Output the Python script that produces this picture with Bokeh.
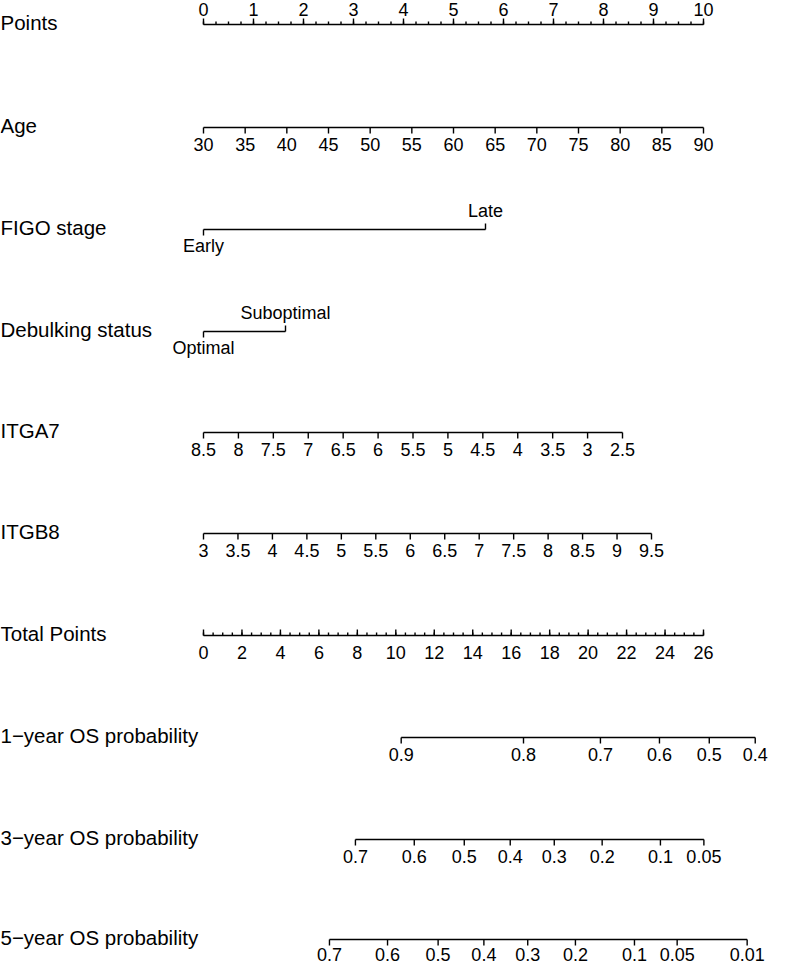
import numpy as np
from bokeh.plotting import figure
from bokeh.models import Range1d
from bokeh.embed import file_html
from bokeh.resources import INLINE
from bokeh.core.properties import value

# ---------------- data ----------------
row_names = ["Points", "Age", "FIGO stage", "Debulking status", "ITGA7", "ITGB8",
             "Total Points", "1\u2212year OS probability", "3\u2212year OS probability",
             "5\u2212year OS probability"]

points_ticks = [0, 1, 2, 3, 4, 5, 6, 7, 8, 9, 10]

age_ticks = [30, 35, 40, 45, 50, 55, 60, 65, 70, 75, 80, 85, 90]
age_end_points = [0.0, 10.0]          # points at age 30 and 90

figo_levels = ["Early", "Late"]
figo_points = [0.0, 5.64]

debulk_levels = ["Optimal", "Suboptimal"]
debulk_points = [0.0, 1.64]

itga7_ticks = [8.5, 8, 7.5, 7, 6.5, 6, 5.5, 5, 4.5, 4, 3.5, 3, 2.5]
itga7_end_points = [0.0, 8.38]        # points at 8.5 and 2.5

itgb8_ticks = [3, 3.5, 4, 4.5, 5, 5.5, 6, 6.5, 7, 7.5, 8, 8.5, 9, 9.5]
itgb8_end_points = [0.0, 8.96]        # points at 3 and 9.5

total_ticks = [0, 2, 4, 6, 8, 10, 12, 14, 16, 18, 20, 22, 24, 26]
total_max = 26

os1_probs = ["0.9", "0.8", "0.7", "0.6", "0.5", "0.4"]
os1_total = [10.28, 16.64, 20.64, 23.71, 26.30, 28.69]

os3_probs = ["0.7", "0.6", "0.5", "0.4", "0.3", "0.2", "0.1", "0.05"]
os3_total = [7.90, 10.96, 13.56, 15.95, 18.24, 20.73, 23.76, 26.02]

os5_probs = ["0.7", "0.6", "0.5", "0.4", "0.3", "0.2", "0.1", "0.05", "0.01"]
os5_total = [6.55, 9.57, 12.20, 14.58, 16.86, 19.34, 22.41, 24.63, 28.27]

# ---------------- layout ----------------
W, H = 797, 965
PX_PER_PT = 50.0
X0_PX = 203.0
x_start = -X0_PX / PX_PER_PT
x_end = (W - X0_PX) / PX_PER_PT

row_y = [24, 127, 229, 331, 432, 533, 635, 737, 839, 939]
TICK = 6.0
MINOR = 3.0
ABOVE_PTS = 15.5   # centre gap for Points labels
ABOVE = 18.5       # centre gap for category labels above line
BELOW = 16.5       # centre gap for labels below line
BELOW_LAST = 15.0  # bottom row sits close to the page edge
FONT = value("Liberation Sans")
TICK_FS = "18px"
LABEL_FS = "20.5px"

p = figure(width=W, height=H, x_range=Range1d(x_start, x_end), y_range=Range1d(H, 0),
           x_axis_type=None, y_axis_type=None, output_backend="svg",
           toolbar_location=None, min_border=0)
p.grid.visible = False
p.outline_line_color = None

sx0, sy0, sx1, sy1 = [], [], [], []
tx, ty, tt = [], [], []          # labels above line
bx, by, bt = [], [], []          # labels below line


def fmt(v):
    return f"{v:g}"


def hline(xa, xb, y):
    sx0.append(xa); sx1.append(xb); sy0.append(y); sy1.append(y)


def tick(x, y, length):
    sx0.append(x); sx1.append(x); sy0.append(y); sy1.append(y + length)


# Points
y = row_y[0]
hline(min(points_ticks), max(points_ticks), y)
for v in np.arange(0, 10.0001, 0.25):
    tick(v, y, -MINOR)
for v in points_ticks:
    tick(v, y, -TICK)
    tx.append(v); ty.append(y - ABOVE_PTS); tt.append(str(v))

# Age
y = row_y[1]
age_pos = np.interp(age_ticks, [age_ticks[0], age_ticks[-1]], age_end_points)
hline(age_pos[0], age_pos[-1], y)
for v, xp in zip(age_ticks, age_pos):
    tick(xp, y, TICK)
    bx.append(xp); by.append(y + BELOW); bt.append(fmt(v))

# FIGO stage
y = row_y[2]
hline(figo_points[0], figo_points[1], y)
tick(figo_points[0], y, TICK)
bx.append(figo_points[0]); by.append(y + BELOW); bt.append(figo_levels[0])
tick(figo_points[1], y, -TICK)
tx.append(figo_points[1]); ty.append(y - ABOVE); tt.append(figo_levels[1])

# Debulking status
y = row_y[3]
hline(debulk_points[0], debulk_points[1], y)
tick(debulk_points[0], y, TICK)
bx.append(debulk_points[0]); by.append(y + BELOW); bt.append(debulk_levels[0])
tick(debulk_points[1], y, -TICK)
tx.append(debulk_points[1]); ty.append(y - ABOVE); tt.append(debulk_levels[1])

# ITGA7
y = row_y[4]
a7_pos = np.interp(itga7_ticks, [itga7_ticks[-1], itga7_ticks[0]], itga7_end_points[::-1])
hline(min(a7_pos), max(a7_pos), y)
for v, xp in zip(itga7_ticks, a7_pos):
    tick(xp, y, TICK)
    bx.append(xp); by.append(y + BELOW); bt.append(fmt(v))

# ITGB8
y = row_y[5]
b8_pos = np.interp(itgb8_ticks, [itgb8_ticks[0], itgb8_ticks[-1]], itgb8_end_points)
hline(min(b8_pos), max(b8_pos), y)
for v, xp in zip(itgb8_ticks, b8_pos):
    tick(xp, y, TICK)
    bx.append(xp); by.append(y + BELOW); bt.append(fmt(v))

# Total points
y = row_y[6]
scale = 10.0 / total_max
hline(0, total_max * scale, y)
for v in np.arange(0, total_max + 0.001, 0.5):
    tick(v * scale, y, -MINOR)
for v in total_ticks:
    tick(v * scale, y, -TICK)
    bx.append(v * scale); by.append(y + BELOW); bt.append(str(v))

# Probability axes
for r, (labs, tots) in zip([7, 8, 9], [(os1_probs, os1_total), (os3_probs, os3_total),
                                       (os5_probs, os5_total)]):
    y = row_y[r]
    gap = BELOW_LAST if r == 9 else BELOW
    xs = [t * scale for t in tots]
    hline(min(xs), max(xs), y)
    for lab, xp in zip(labs, xs):
        tick(xp, y, TICK)
        bx.append(xp); by.append(y + gap); bt.append(lab)

p.segment(x0=sx0, y0=sy0, x1=sx1, y1=sy1, line_color="black", line_width=1.4)

p.text(x=tx, y=ty, text=tt, text_font=FONT, text_font_size=TICK_FS,
       text_align="center", text_baseline="middle", text_color="black")
p.text(x=bx, y=by, text=bt, text_font=FONT, text_font_size=TICK_FS,
       text_align="center", text_baseline="middle", text_color="black")

p.text(x=[x_start] * len(row_names), y=[v - 2 for v in row_y], text=row_names,
       text_font=FONT, text_font_size=LABEL_FS, text_align="left",
       text_baseline="middle", text_color="black")

open("out.html", "w").write(file_html(p, INLINE))
